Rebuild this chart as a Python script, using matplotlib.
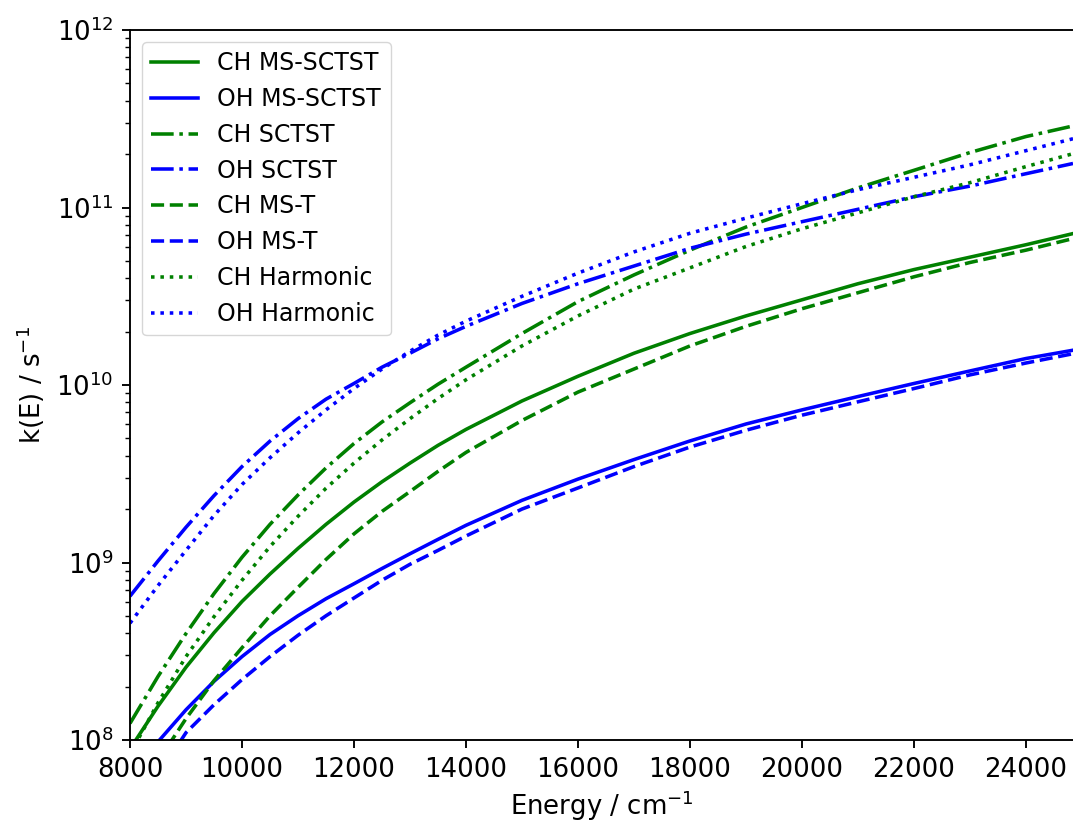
import numpy as np
import matplotlib
matplotlib.use("Agg")
import matplotlib.pyplot as plt

# Energy grid (cm^-1)
energy = [8000, 8500, 9000, 9500, 10000, 10500, 11000, 11500, 12000, 12500, 13000, 13500,
          14000, 15000, 16000, 17000, 18000, 19000, 20000, 21000, 22000, 23000, 24000, 24840]

ch_ms_sctst = [8.91e7, 1.55e8, 2.57e8, 4.02e8, 6.03e8, 8.61e8, 1.20e9, 1.64e9, 2.19e9, 2.85e9,
               3.63e9, 4.57e9, 5.62e9, 8.13e9, 1.12e10, 1.51e10, 1.95e10, 2.45e10, 3.02e10,
               3.72e10, 4.47e10, 5.25e10, 6.17e10, 7.13e10]
oh_ms_sctst = [6.03e7, 9.77e7, 1.48e8, 2.14e8, 2.95e8, 3.93e8, 5.01e8, 6.25e8, 7.59e8, 9.25e8,
               1.12e9, 1.35e9, 1.62e9, 2.24e9, 2.95e9, 3.80e9, 4.84e9, 6.03e9, 7.24e9,
               8.61e9, 1.02e10, 1.20e10, 1.41e10, 1.57e10]
ch_sctst = [1.24e8, 2.28e8, 3.98e8, 6.68e8, 1.07e9, 1.64e9, 2.40e9, 3.41e9, 4.68e9, 6.19e9,
            7.94e9, 1.01e10, 1.26e10, 1.95e10, 2.95e10, 4.17e10, 5.75e10, 7.76e10, 1.00e11,
            1.29e11, 1.62e11, 2.04e11, 2.51e11, 2.88e11]
oh_sctst = [6.46e8, 1.02e9, 1.58e9, 2.38e9, 3.47e9, 4.83e9, 6.46e9, 8.32e9, 1.02e10, 1.26e10,
            1.51e10, 1.82e10, 2.14e10, 2.88e10, 3.72e10, 4.68e10, 5.89e10, 7.08e10, 8.32e10,
            9.77e10, 1.15e11, 1.32e11, 1.55e11, 1.77e11]
ch_ms_t = [3.98e7, 7.59e7, 1.32e8, 2.16e8, 3.31e8, 5.01e8, 7.24e8, 1.04e9, 1.45e9, 1.94e9,
           2.51e9, 3.26e9, 4.17e9, 6.31e9, 9.12e9, 1.23e10, 1.66e10, 2.14e10, 2.69e10,
           3.31e10, 4.07e10, 4.90e10, 5.75e10, 6.68e10]
oh_ms_t = [2.82e7, 6.31e7, 1.10e8, 1.58e8, 2.19e8, 2.95e8, 3.89e8, 5.01e8, 6.31e8, 7.94e8,
           9.77e8, 1.17e9, 1.41e9, 2.00e9, 2.63e9, 3.47e9, 4.47e9, 5.56e9, 6.76e9,
           8.04e9, 9.55e9, 1.14e10, 1.33e10, 1.50e10]
ch_harmonic = [8.32e7, 1.62e8, 2.95e8, 4.95e8, 7.94e8, 1.23e9, 1.82e9, 2.62e9, 3.63e9, 4.90e9,
               6.46e9, 8.39e9, 1.07e10, 1.66e10, 2.45e10, 3.47e10, 4.57e10, 6.03e10, 7.59e10,
               9.33e10, 1.15e11, 1.38e11, 1.70e11, 2.01e11]
oh_harmonic = [4.55e8, 7.41e8, 1.17e9, 1.84e9, 2.75e9, 3.89e9, 5.37e9, 7.24e9, 9.55e9, 1.23e10,
               1.55e10, 1.91e10, 2.29e10, 3.16e10, 4.27e10, 5.62e10, 7.16e10, 8.71e10, 1.05e11,
               1.26e11, 1.48e11, 1.74e11, 2.09e11, 2.44e11]

labels = ["CH MS-SCTST", "OH MS-SCTST", "CH SCTST", "OH SCTST",
          "CH MS-T", "OH MS-T", "CH Harmonic", "OH Harmonic"]
x_ticks = [8000, 10000, 12000, 14000, 16000, 18000, 20000, 22000, 24000]

s = 1.7
plt.rcParams.update({
    "font.family": ["DejaVu Sans"],
    "font.size": 10 * s,
    "axes.labelsize": 18.7,
    "xtick.labelsize": 18.7,
    "ytick.labelsize": 18.7,
    "legend.fontsize": 17,
    "axes.linewidth": 0.8 * s,
    "xtick.major.size": 3.5 * s, "ytick.major.size": 3.5 * s,
    "xtick.minor.size": 2 * s, "ytick.minor.size": 2 * s,
    "xtick.major.width": 0.8 * s, "ytick.major.width": 0.8 * s,
    "xtick.minor.width": 0.6 * s, "ytick.minor.width": 0.6 * s,
    "xtick.major.pad": 3.5 * s, "ytick.major.pad": 3.5 * s,
    "lines.linewidth": 1.5 * s,
    "legend.edgecolor": "0.8",
})

fig = plt.figure(figsize=(10.73, 8.24), dpi=100)
ax = fig.add_axes([130 / 1073, 84 / 824, 1 - 130 / 1073, 710 / 824])

series = [ch_ms_sctst, oh_ms_sctst, ch_sctst, oh_sctst, ch_ms_t, oh_ms_t, ch_harmonic, oh_harmonic]
styles = ["-", "-", "-.", "-.", "--", "--", ":", ":"]
colors = ["green", "blue"] * 4
for y, ls, c, lab in zip(series, styles, colors, labels):
    ax.plot(energy, y, linestyle=ls, color=c, label=lab)

ax.set_yscale("log")
ax.set_xlim(8000, 24840)
ax.set_ylim(1e8, 1e12)
ax.set_xticks(x_ticks)
ax.set_xticklabels([str(v) for v in x_ticks])
ax.spines["right"].set_visible(False)
ax.set_xlabel("Energy / cm$^{-1}$", labelpad=4)
ax.set_ylabel("k(E) / s$^{-1}$", labelpad=6.8)
ax.legend(loc="upper left")

fig.savefig("out.png", dpi=100)
